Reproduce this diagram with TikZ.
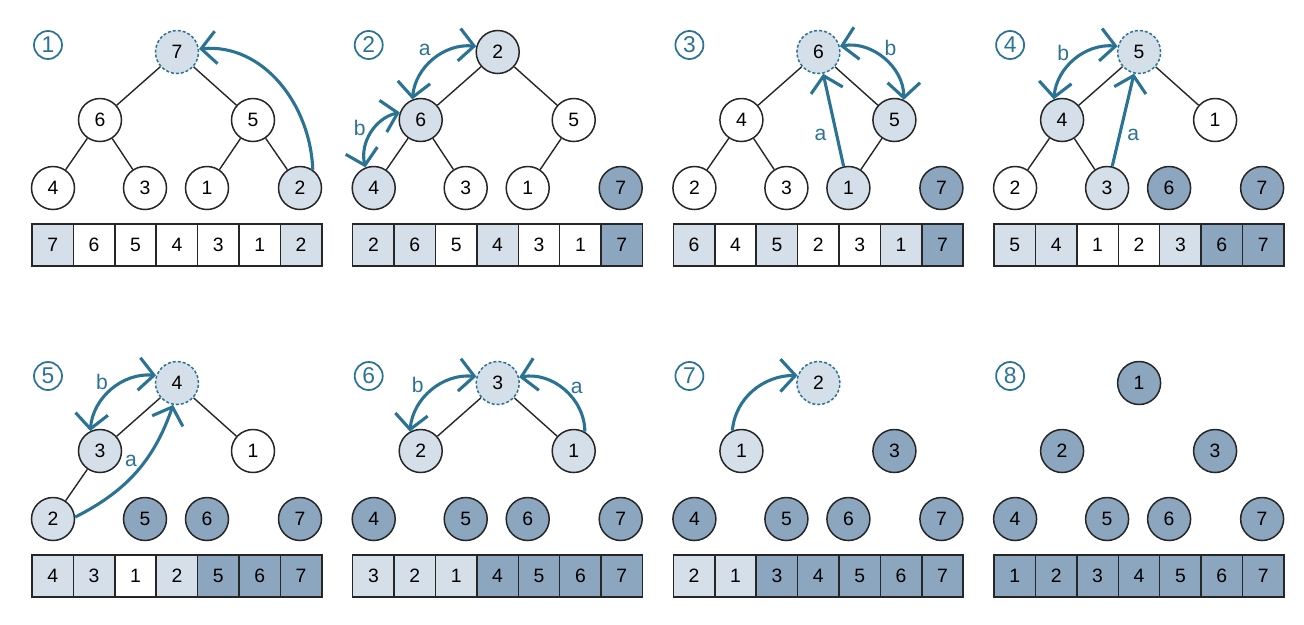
\documentclass[tikz,border=0pt]{standalone}
\usepackage{fontspec}
\setmainfont{Liberation Sans}
\usepackage{tikz}
\usetikzlibrary{arrows.meta}
\definecolor{arrowteal}{HTML}{2B7395}
\definecolor{lightfill}{HTML}{D4DFE9}
\definecolor{darkfill}{HTML}{8BA6BE}
\definecolor{linegray}{HTML}{262626}

\begin{document}
\begin{tikzpicture}[x=0.2mm, y=-0.2mm,
  hnode/.style={circle, draw=linegray, line width=0.3mm, fill=white,
                minimum size=8.6mm, inner sep=0pt, font=\fontsize{11}{12}\selectfont},
  lnode/.style={hnode, fill=lightfill},
  dnode/.style={hnode, fill=darkfill},
  droot/.style={hnode, fill=lightfill, draw=arrowteal, dash pattern=on 0.6mm off 0.4mm},
  cell/.style={draw=linegray, line width=0.3mm, minimum width=8.28mm, minimum height=8.4mm,
               inner sep=0pt, font=\fontsize{11}{12}\selectfont},
  edge/.style={linegray, line width=0.28mm},
  arr/.style={-{Straight Barb[length=3mm, width=6.5mm]}, line width=0.62mm, arrowteal},
  darr/.style={{Straight Barb[length=3mm, width=6.5mm]}-{Straight Barb[length=3mm, width=6.5mm]},
               line width=0.62mm, arrowteal},
  lbl/.style={text=arrowteal, font=\fontsize{12}{12}\selectfont, inner sep=0pt},
  badge/.style={circle, draw=arrowteal, line width=0.35mm, text=arrowteal, minimum size=5.6mm,
                inner sep=0pt, font=\fontsize{13}{13}\selectfont},
]
\useasboundingbox (0,0) rectangle (1304,624);

% (1) swap root with last leaf
\begin{scope}[shift={(32,52)}]
\node[badge] (p1s) at (16,-7) {1};
\node[droot] (p1n1) at (145,0) {7};
\node[hnode] (p1n2) at (68,68) {6};
\node[hnode] (p1n3) at (221,68) {5};
\node[hnode] (p1n4) at (21,136) {4};
\node[hnode] (p1n5) at (113,136) {3};
\node[hnode] (p1n6) at (175,136) {1};
\node[lnode] (p1n7) at (268,136) {2};
\draw[edge] (p1n1) -- (p1n2);
\draw[edge] (p1n1) -- (p1n3);
\draw[edge] (p1n2) -- (p1n4);
\draw[edge] (p1n2) -- (p1n5);
\draw[edge] (p1n3) -- (p1n6);
\draw[edge] (p1n3) -- (p1n7);
\draw[arr] (p1n7.55) to[out=92,in=5] (p1n1.8);
\foreach \v/\f [count=\i] in {7/lightfill,6/white,5/white,4/white,3/white,1/white,2/lightfill}
  \node[cell, fill=\f] (p1c\i) at ({20.7+41.4*(\i-1)},193) {\v};
\end{scope}

% (2) sift down
\begin{scope}[shift={(352.7,52)}]
\node[badge] (p2s) at (16,-7) {2};
\node[lnode] (p2n1) at (145,0) {2};
\node[lnode] (p2n2) at (68,68) {6};
\node[hnode] (p2n3) at (221,68) {5};
\node[lnode] (p2n4) at (21,136) {4};
\node[hnode] (p2n5) at (113,136) {3};
\node[hnode] (p2n6) at (175,136) {1};
\node[dnode] (p2n7) at (268,136) {7};
\draw[edge] (p2n1) -- (p2n2);
\draw[edge] (p2n1) -- (p2n3);
\draw[edge] (p2n2) -- (p2n4);
\draw[edge] (p2n2) -- (p2n5);
\draw[edge] (p2n3) -- (p2n6);
\draw[darr] (p2n2.112) to[bend left=45] (p2n1.165);
\draw[darr] (p2n4.112) to[bend left=45] (p2n2.160);
\node[lbl] (p2a) at (72,-2) {a};
\node[lbl] (p2b) at (7,76) {b};
\foreach \v/\f [count=\i] in {2/lightfill,6/lightfill,5/white,4/lightfill,3/white,1/white,7/darkfill}
  \node[cell, fill=\f] (p2c\i) at ({20.7+41.4*(\i-1)},193) {\v};
\end{scope}

% (3)
\begin{scope}[shift={(673.4,52)}]
\node[badge] (p3s) at (16,-7) {3};
\node[droot] (p3n1) at (145,0) {6};
\node[hnode] (p3n2) at (68,68) {4};
\node[lnode] (p3n3) at (221,68) {5};
\node[hnode] (p3n4) at (21,136) {2};
\node[hnode] (p3n5) at (113,136) {3};
\node[lnode] (p3n6) at (175,136) {1};
\node[dnode] (p3n7) at (268,136) {7};
\draw[edge] (p3n1) -- (p3n2);
\draw[edge] (p3n1) -- (p3n3);
\draw[edge] (p3n2) -- (p3n4);
\draw[edge] (p3n2) -- (p3n5);
\draw[edge] (p3n3) -- (p3n6);
\draw[arr] (p3n6) -- (p3n1);
\draw[darr] (p3n1.15) to[bend left=50] (p3n3.65);
\node[lbl] (p3a) at (147,83) {a};
\node[lbl] (p3b) at (217,-4) {b};
\foreach \v/\f [count=\i] in {6/lightfill,4/white,5/lightfill,2/white,3/white,1/lightfill,7/darkfill}
  \node[cell, fill=\f] (p3c\i) at ({20.7+41.4*(\i-1)},193) {\v};
\end{scope}

% (4)
\begin{scope}[shift={(994.1,52)}]
\node[badge] (p4s) at (16,-7) {4};
\node[droot] (p4n1) at (145,0) {5};
\node[lnode] (p4n2) at (68,68) {4};
\node[hnode] (p4n3) at (221,68) {1};
\node[hnode] (p4n4) at (21,136) {2};
\node[lnode] (p4n5) at (113,136) {3};
\node[dnode] (p4n6) at (175,136) {6};
\node[dnode] (p4n7) at (268,136) {7};
\draw[edge] (p4n1) -- (p4n2);
\draw[edge] (p4n1) -- (p4n3);
\draw[edge] (p4n2) -- (p4n4);
\draw[edge] (p4n2) -- (p4n5);
\draw[arr] (p4n5) -- (p4n1);
\draw[darr] (p4n2.112) to[bend left=45] (p4n1.165);
\node[lbl] (p4a) at (139,83) {a};
\node[lbl] (p4b) at (69,1) {b};
\foreach \v/\f [count=\i] in {5/lightfill,4/lightfill,1/white,2/white,3/lightfill,6/darkfill,7/darkfill}
  \node[cell, fill=\f] (p4c\i) at ({20.7+41.4*(\i-1)},193) {\v};
\end{scope}

% (5)
\begin{scope}[shift={(32,383)}]
\node[badge] (p5s) at (16,-7) {5};
\node[droot] (p5n1) at (145,0) {4};
\node[lnode] (p5n2) at (68,68) {3};
\node[hnode] (p5n3) at (221,68) {1};
\node[lnode] (p5n4) at (21,136) {2};
\node[dnode] (p5n5) at (113,136) {5};
\node[dnode] (p5n6) at (175,136) {6};
\node[dnode] (p5n7) at (268,136) {7};
\draw[edge] (p5n1) -- (p5n2);
\draw[edge] (p5n1) -- (p5n3);
\draw[edge] (p5n2) -- (p5n4);
\draw[arr] (p5n4.5) to[bend right=22] (p5n1.-100);
\draw[darr] (p5n2.116) to[bend left=45] (p5n1.160);
\node[lbl] (p5a) at (99,78) {a};
\node[lbl] (p5b) at (70,-1) {b};
\foreach \v/\f [count=\i] in {4/lightfill,3/lightfill,1/white,2/lightfill,5/darkfill,6/darkfill,7/darkfill}
  \node[cell, fill=\f] (p5c\i) at ({20.7+41.4*(\i-1)},193) {\v};
\end{scope}

% (6)
\begin{scope}[shift={(352.7,383)}]
\node[badge] (p6s) at (16,-7) {6};
\node[droot] (p6n1) at (145,0) {3};
\node[lnode] (p6n2) at (68,68) {2};
\node[lnode] (p6n3) at (221,68) {1};
\node[dnode] (p6n4) at (21,136) {4};
\node[dnode] (p6n5) at (113,136) {5};
\node[dnode] (p6n6) at (175,136) {6};
\node[dnode] (p6n7) at (268,136) {7};
\draw[edge] (p6n1) -- (p6n2);
\draw[edge] (p6n1) -- (p6n3);
\draw[arr] (p6n3.60) to[out=90,in=10] (p6n1.15);
\draw[darr] (p6n2.119) to[bend left=45] (p6n1.163);
\node[lbl] (p6a) at (224,5) {a};
\node[lbl] (p6b) at (65,2) {b};
\foreach \v/\f [count=\i] in {3/lightfill,2/lightfill,1/lightfill,4/darkfill,5/darkfill,6/darkfill,7/darkfill}
  \node[cell, fill=\f] (p6c\i) at ({20.7+41.4*(\i-1)},193) {\v};
\end{scope}

% (7)
\begin{scope}[shift={(673.4,383)}]
\node[badge] (p7s) at (16,-7) {7};
\node[droot] (p7n1) at (145,0) {2};
\node[lnode] (p7n2) at (68,68) {1};
\node[dnode] (p7n3) at (221,68) {3};
\node[dnode] (p7n4) at (21,136) {4};
\node[dnode] (p7n5) at (113,136) {5};
\node[dnode] (p7n6) at (175,136) {6};
\node[dnode] (p7n7) at (268,136) {7};
\draw[arr] (p7n2.114) to[out=85,in=180] (p7n1.160);
\foreach \v/\f [count=\i] in {2/lightfill,1/lightfill,3/darkfill,4/darkfill,5/darkfill,6/darkfill,7/darkfill}
  \node[cell, fill=\f] (p7c\i) at ({20.7+41.4*(\i-1)},193) {\v};
\end{scope}

% (8) sorted
\begin{scope}[shift={(994.1,383)}]
\node[badge] (p8s) at (16,-7) {8};
\node[dnode] (p8n1) at (145,0) {1};
\node[dnode] (p8n2) at (68,68) {2};
\node[dnode] (p8n3) at (221,68) {3};
\node[dnode] (p8n4) at (21,136) {4};
\node[dnode] (p8n5) at (113,136) {5};
\node[dnode] (p8n6) at (175,136) {6};
\node[dnode] (p8n7) at (268,136) {7};
\foreach \v [count=\i] in {1,...,7}
  \node[cell, fill=darkfill] (p8c\i) at ({20.7+41.4*(\i-1)},193) {\v};
\end{scope}
\end{tikzpicture}
\end{document}
